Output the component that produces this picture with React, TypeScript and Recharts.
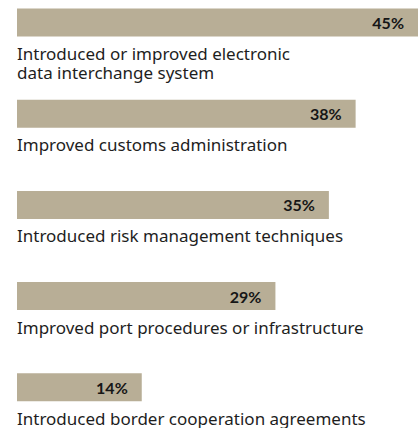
import React from "react";
import { BarChart, Bar, XAxis, YAxis, LabelList } from "recharts";

const categories = [
  "Introduced or improved electronic\ndata interchange system",
  "Improved customs administration",
  "Introduced risk management techniques",
  "Improved port procedures or infrastructure",
  "Introduced border cooperation agreements",
];
const shares = [45, 38, 35, 29, 14];

const data = categories.map((name, i) => ({ name, value: shares[i] }));

// category text sits under each bar, split on \n for the wrapped one
function CategoryLabel(props: any) {
  const { x, y, height, value } = props;
  const lines = String(value).split("\n");
  return (
    <text x={x} y={y + height + 23.5} fontSize={17} fill="#1e1e1e" fontFamily="'Noto Sans', sans-serif">
      {lines.map((l, i) => (
        <tspan key={i} x={x} dy={i === 0 ? 0 : 19.5}>
          {l}
        </tspan>
      ))}
    </text>
  );
}

function ValueLabel(props: any) {
  const { x, y, width, height, value } = props;
  return (
    <text
      x={x + width - 14}
      y={y + height / 2}
      textAnchor="end"
      dominantBaseline="central"
      fontSize={16}
      fontWeight="bold"
      fill="#161616"
      fontFamily="Lato, sans-serif"
    >
      {value}%
    </text>
  );
}

export default function App() {
  return (
    <div style={{ position: "absolute", left: 0, top: 0, background: "#fff" }}>
      <BarChart
        width={418}
        height={428}
        layout="vertical"
        data={data}
        margin={{ top: -23.6, right: 0, bottom: -4.6, left: 17 }}
      >
        <XAxis type="number" domain={[0, 45]} hide />
        <YAxis type="category" dataKey="name" hide />
        <Bar dataKey="value" fill="#b8ae96" barSize={28} isAnimationActive={false}>
          <LabelList dataKey="name" content={<CategoryLabel />} />
          <LabelList dataKey="value" content={<ValueLabel />} />
        </Bar>
      </BarChart>
    </div>
  );
}
